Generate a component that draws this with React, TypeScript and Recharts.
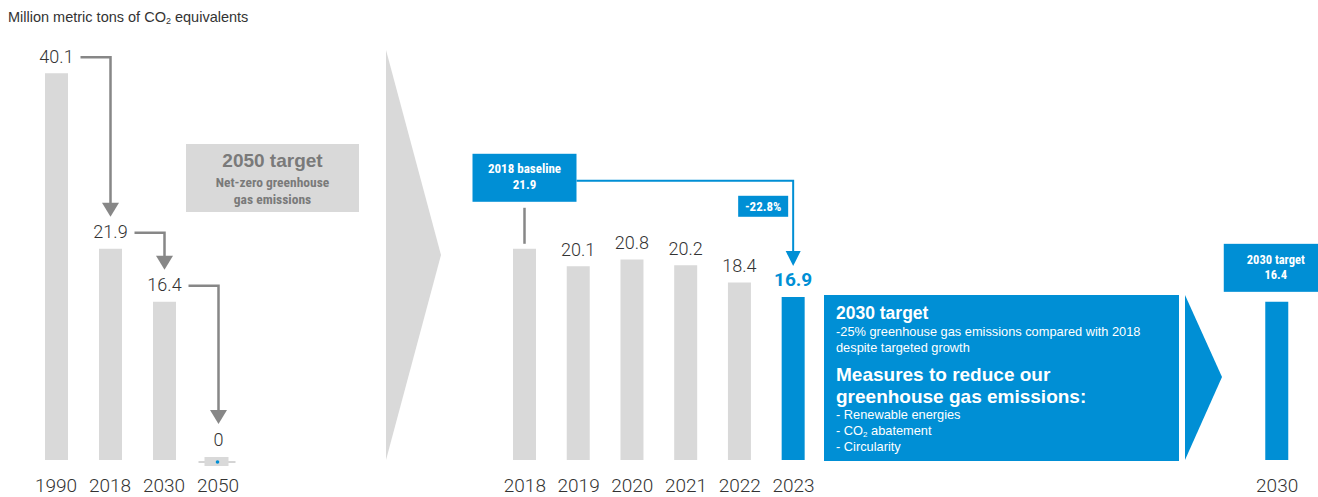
import React from 'react';
import { BarChart, Bar, XAxis, YAxis, Cell, LabelList } from 'recharts';

// left part: long-term path
const leftYears = ['1990', '2018', '2030', '2050'];
const leftValues = [40.1, 21.9, 16.4, 0];

// right part: yearly progress (blank slots keep the gap before 2030)
const rightYears = ['2018', '2019', '2020', '2021', '2022', '2023', '', '', '', '', '', '', '', '', '2030'];
const rightValues: (number | null)[] = [21.9, 20.1, 20.8, 20.2, 18.4, 16.9, null, null, null, null, null, null, null, null, 16.4];
const highlightYears = ['2023', '2030'];

const baselineText = ['2018 baseline', '21.9'];
const reductionText = '-22.8%';
const targetText = ['2030 target', '16.4'];

const GREY = '#d9d9d9';
const BLUE = '#008fd5';
const ARROW = '#878787';
const TEXT = '#333';
const FONT = "Roboto, 'Liberation Sans', sans-serif";
const SANS = "'Liberation Sans', Arial, sans-serif";
const NARROW = "'Liberation Sans Narrow', 'Roboto Condensed', 'Liberation Sans', sans-serif";

const W = 1318;
const H = 497;
const TOP = 26;
const BOTTOM = 460;
const Y_MAX = 45;
const UNIT = (BOTTOM - TOP) / Y_MAX;

const LEFT_W = 260;
const LEFT_M = { top: TOP, right: 15, left: 29, bottom: 0 };
const LEFT_STEP = (LEFT_W - LEFT_M.left - LEFT_M.right) / leftYears.length;

const RIGHT_M = { top: TOP, right: 14, left: 498, bottom: 0 };
const RIGHT_STEP = (W - RIGHT_M.left - RIGHT_M.right) / rightYears.length;

const leftData = leftYears.map((year, i) => ({ year, value: leftValues[i] }));
const rightData = rightYears.map((year, i) => ({ year, value: rightValues[i] }));

const box = (props: any) => {
  const vb = props.viewBox ?? props;
  return { x: vb.x as number, y: vb.y as number, width: vb.width as number, height: vb.height as number };
};

// band index from the bar's own position
const bandIndex = (cx: number, left: number, step: number) => Math.round((cx - left) / step - 0.5);

const labelOffset = (v: number) => (v === 0 ? 21 : 17);

const ValueText = ({ x, y, value }: any) => (
  <text x={x} y={y} textAnchor="middle" dominantBaseline="central" fontSize={18} fontWeight={300} fill={TEXT} fontFamily={FONT}>
    {value}
  </text>
);

const ZeroMark = ({ cx, bottom }: any) => (
  <g>
    <line x1={cx - 20} x2={cx + 17} y1={bottom + 2} y2={bottom + 2} stroke="#aaa" strokeWidth={1} />
    <rect x={cx - 14} y={bottom - 3} width={24} height={9} fill={GREY} />
    <circle cx={cx - 1} cy={bottom + 2} r={1.8} fill={BLUE} />
  </g>
);

const LeftLabel = (props: any) => {
  const { x, y, width, height } = box(props);
  const cx = x + width / 2;
  const index = bandIndex(cx, LEFT_M.left, LEFT_STEP);
  const value = leftValues[index];
  if (value == null || value === 0) return null;
  const bottom = y + height;
  const top = bottom - value * UNIT;
  const ly = top - labelOffset(value);
  const next = leftValues[index + 1];
  let connector = null;
  if (next != null) {
    const nx = cx + LEFT_STEP;
    const nTop = bottom - next * UNIT;
    const nly = nTop - labelOffset(next);
    const tip = nly - 15;
    connector = (
      <g>
        <path d={`M${cx + 24},${ly + 1}H${nx}V${tip - 13}`} fill="none" stroke={ARROW} strokeWidth={2.5} />
        <polygon points={`${nx - 8.5},${tip - 14} ${nx + 8.5},${tip - 14} ${nx},${tip}`} fill={ARROW} />
        {next === 0 && (
          <g>
            <ZeroMark cx={nx} bottom={bottom} />
            <ValueText x={nx} y={nly} value={next} />
          </g>
        )}
      </g>
    );
  }
  return (
    <g>
      <ValueText x={cx} y={ly} value={value} />
      {connector}
    </g>
  );
};

const whiteText = (x: number, y: number, s: string, size = 13) => (
  <text x={x} y={y} textAnchor="middle" dominantBaseline="central" fontSize={size} fontWeight={700} fill="#fff" fontFamily={NARROW}>
    {s}
  </text>
);

const RightLabel = (props: any) => {
  const { x, y, width, height } = box(props);
  const cx = x + width / 2;
  const index = bandIndex(cx, RIGHT_M.left, RIGHT_STEP);
  const value = rightValues[index];
  if (value == null) return null;
  const year = rightYears[index];
  const bottom = y + height;
  const top = bottom - value * UNIT;

  if (index === 0) {
    const target = rightYears.indexOf('2023');
    const tx = cx + target * RIGHT_STEP;
    const tTop = bottom - (rightValues[target] as number) * UNIT;
    const tip = tTop - 18 - 13;
    const lineY = top - 68;
    return (
      <g>
        <line x1={cx} x2={cx} y1={top - 41} y2={top - 5} stroke={ARROW} strokeWidth={2.5} />
        <rect x={cx - 52} y={top - 95} width={104} height={48} fill={BLUE} />
        {whiteText(cx, top - 80, baselineText[0])}
        {whiteText(cx, top - 64, baselineText[1])}
        <path d={`M${cx + 52},${lineY}H${tx}V${tip - 14}`} fill="none" stroke={BLUE} strokeWidth={2} />
        <polygon points={`${tx - 7.5},${tip - 15} ${tx + 7.5},${tip - 15} ${tx},${tip}`} fill={BLUE} />
        <rect x={tx - 55} y={lineY + 15} width={50} height={21} fill={BLUE} />
        {whiteText(tx - 30, lineY + 25.5, reductionText)}
      </g>
    );
  }
  if (year === '2030') {
    return (
      <g>
        <rect x={cx - 53} y={top - 58} width={106} height={48} fill={BLUE} />
        {whiteText(cx - 1, top - 42, targetText[0], 12.5)}
        {whiteText(cx - 1, top - 27, targetText[1], 12.5)}
      </g>
    );
  }
  const hl = highlightYears.includes(year);
  if (hl) {
    return (
      <text x={cx} y={top - 18} textAnchor="middle" dominantBaseline="central" fontSize={19} fontWeight={700} fill={BLUE} fontFamily={FONT}>
        {value}
      </text>
    );
  }
  return <ValueText x={cx} y={top - 17} value={value} />;
};

const tickStyle = { fill: TEXT, fontSize: 19, fontFamily: FONT, fontWeight: 300 };

const Line = ({ top, size, bold, children, left }: any) => (
  <div
    style={{
      position: 'absolute',
      left,
      top: top - size * 0.6,
      fontSize: size,
      lineHeight: `${size * 1.2}px`,
      fontWeight: bold ? 700 : 400,
      whiteSpace: 'nowrap',
    }}
  >
    {children}
  </div>
);

export default function App() {
  return (
    <div style={{ position: 'absolute', left: 0, top: 0, width: W, height: H, background: '#fff', fontFamily: FONT, overflow: 'hidden' }}>
      <div style={{ position: 'absolute', left: 8, top: 8, fontSize: 14.5, color: TEXT, lineHeight: '18px', fontFamily: SANS }}>
        Million metric tons of CO<sub style={{ fontSize: 9, verticalAlign: '-2px' }}>2</sub> equivalents
      </div>

      <div style={{ position: 'absolute', left: 0, top: 0 }}>
        <BarChart width={LEFT_W} height={H} data={leftData} margin={LEFT_M}>
          <XAxis dataKey="year" axisLine={false} tickLine={false} height={37} tick={tickStyle} tickMargin={13} interval={0} />
          <YAxis hide domain={[0, Y_MAX]} />
          <Bar dataKey="value" fill={GREY} barSize={23} isAnimationActive={false}>
            <LabelList dataKey="value" content={LeftLabel} />
          </Bar>
        </BarChart>
      </div>

      <div style={{ position: 'absolute', left: 0, top: 0 }}>
        <BarChart width={W} height={H} data={rightData} margin={RIGHT_M}>
          <XAxis dataKey="year" axisLine={false} tickLine={false} height={37} tick={tickStyle} tickMargin={13} interval={0} />
          <YAxis hide domain={[0, Y_MAX]} />
          <Bar dataKey="value" fill={GREY} barSize={23} isAnimationActive={false}>
            {rightData.map((d, i) => (
              <Cell key={i} fill={highlightYears.includes(d.year) ? BLUE : GREY} />
            ))}
            <LabelList dataKey="value" content={RightLabel} />
          </Bar>
        </BarChart>
      </div>

      {/* 2050 target box */}
      <div style={{ position: 'absolute', left: 186, top: 144, width: 173, height: 68, background: GREY, color: '#7a7a7a', textAlign: 'center' }}>
        <div style={{ position: 'absolute', left: 0, right: 0, top: 6, fontSize: 19, fontWeight: 700, lineHeight: '22px', fontFamily: SANS }}>2050 target</div>
        <div style={{ position: 'absolute', left: 0, right: 0, top: 30, fontSize: 13.5, fontWeight: 700, lineHeight: '17px', fontFamily: NARROW }}>
          Net-zero greenhouse
          <br />
          gas emissions
        </div>
      </div>

      {/* chevrons */}
      <svg width={W} height={H} style={{ position: 'absolute', left: 0, top: 0, pointerEvents: 'none' }}>
        <polygon points="386,50 441,255 386,460" fill={GREY} />
        <polygon points="1185,295 1222,377 1185,460" fill={BLUE} />
      </svg>

      {/* 2030 target text box */}
      <div style={{ position: 'absolute', left: 824, top: 295, width: 355, height: 166, background: BLUE, color: '#fff', fontFamily: SANS }}>
        <Line left={12} top={18} size={17.5} bold>2030 target</Line>
        <Line left={12} top={37} size={12.8}>-25% greenhouse gas emissions compared with 2018</Line>
        <Line left={12} top={53} size={12.8}>despite targeted growth</Line>
        <Line left={12} top={80} size={19} bold>Measures to reduce our</Line>
        <Line left={12} top={102} size={19} bold>greenhouse gas emissions:</Line>
        <Line left={12} top={120} size={12.8}>- Renewable energies</Line>
        <Line left={12} top={136} size={12.8}>
          - CO<sub style={{ fontSize: 8, verticalAlign: '-2px' }}>2</sub> abatement
        </Line>
        <Line left={12} top={152} size={12.8}>- Circularity</Line>
      </div>
    </div>
  );
}
